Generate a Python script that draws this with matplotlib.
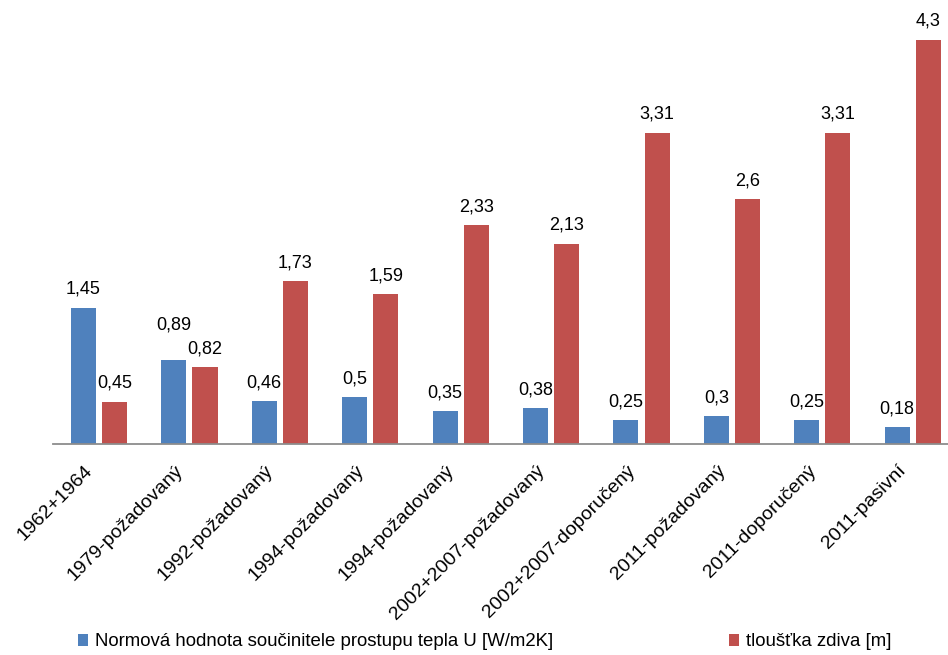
import matplotlib.pyplot as plt
import matplotlib.transforms as mtransforms
import numpy as np

plt.rcParams['font.family'] = ['Liberation Sans', 'DejaVu Sans']

# hodnoty podle norem
categories = ['1962+1964', '1979-požadovaný', '1992-požadovaný', '1994-požadovaný',
              '1994-požadovaný', '2002+2007-požadovaný', '2002+2007-doporučený',
              '2011-požadovaný', '2011-doporučený', '2011-pasivní']
u_values = [1.45, 0.89, 0.46, 0.5, 0.35, 0.38, 0.25, 0.3, 0.25, 0.18]
wall_thickness = [0.45, 0.82, 1.73, 1.59, 2.33, 2.13, 3.31, 2.6, 3.31, 4.3]

series_names = ['Normová hodnota součinitele prostupu tepla U [W/m2K]',
                'tloušťka zdiva [m]']

blue = '#4F81BD'
red = '#C0504D'

fig = plt.figure(figsize=(9.48, 6.55), dpi=100)
ax = fig.add_axes([53 / 948, 211 / 655, 1 - 53 / 948, 444 / 655])

x = np.arange(len(categories))
w = 0.277
off = 0.172

b1 = ax.bar(x - off, u_values, w, color=blue, label=series_names[0])
b2 = ax.bar(x + off, wall_thickness, w, color=red, label=series_names[1])

def fmt(v):
    return ('%g' % v).replace('.', ',')

for i in range(len(categories)):
    u = u_values[i]
    t = wall_thickness[i]
    extra = 0
    # popisky blizkych hodnot se jinak prekryvaji
    if abs(u - t) < 0.2 and u > t:
        extra = 12
    ax.annotate(fmt(u), (x[i] - off, u), xytext=(0, 7 + extra),
                textcoords='offset points', ha='center', va='bottom', fontsize=13)
    ax.annotate(fmt(t), (x[i] + off, t), xytext=(0, 7),
                textcoords='offset points', ha='center', va='bottom', fontsize=13)

ax.set_xlim(-0.509, 9.39)
ax.set_ylim(0, 4.72)

for s in ['top', 'right', 'left']:
    ax.spines[s].set_visible(False)
ax.spines['bottom'].set_color('#8c8c8c')
ax.spines['bottom'].set_linewidth(1.3)
ax.set_yticks([])

ax.set_xticks(x)
ax.set_xticklabels(categories, rotation=45, ha='right', va='top',
                   rotation_mode='anchor', fontsize=14)
ax.tick_params(axis='x', length=0, pad=0)
shift = mtransforms.ScaledTranslation(-15 / 100, -18 / 100, fig.dpi_scale_trans)
for lab in ax.get_xticklabels():
    lab.set_transform(lab.get_transform() + shift)

fig.legend(handles=[b1, b2], loc='center left', bbox_to_anchor=(61 / 948, 1 - 642 / 655),
           ncol=2, frameon=False, fontsize=13.4, handlelength=0.55, handleheight=0.55,
           handletextpad=0.4, columnspacing=9.4)

plt.savefig('out.png', dpi=100)
